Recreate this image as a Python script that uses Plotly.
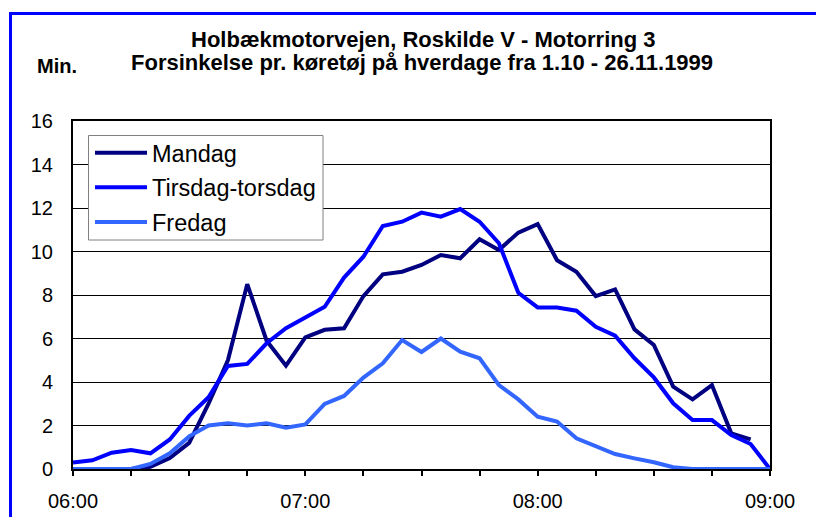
import plotly.graph_objects as go

times = ["06:00", "06:05", "06:10", "06:15", "06:20", "06:25", "06:30", "06:35", "06:40", "06:45",
         "06:50", "06:55", "07:00", "07:05", "07:10", "07:15", "07:20", "07:25", "07:30", "07:35",
         "07:40", "07:45", "07:50", "07:55", "08:00", "08:05", "08:10", "08:15", "08:20", "08:25",
         "08:30", "08:35", "08:40", "08:45", "08:50", "08:55", "09:00"]

mandag = [0, 0, 0, 0, 0.1, 0.5, 1.2, 3.0, 5.0, 8.5, 5.9, 4.75, 6.05, 6.4, 6.47, 7.95, 8.95, 9.07,
          9.38, 9.84, 9.69, 10.56, 10.07, 10.87, 11.26, 9.6, 9.07, 7.95, 8.26, 6.42, 5.7, 3.79,
          3.2, 3.86, 1.64, 1.36, None]
tirsdag = [0.3, 0.4, 0.75, 0.87, 0.72, 1.36, 2.44, 3.3, 4.74, 4.83, 5.78, 6.47, 6.97, 7.46, 8.8,
           9.76, 11.17, 11.37, 11.79, 11.6, 11.95, 11.37, 10.38, 8.1, 7.43, 7.42, 7.28, 6.54, 6.13,
           5.09, 4.21, 3.02, 2.25, 2.25, 1.56, 1.15, 0]
fredag = [0, 0, 0, 0, 0.23, 0.72, 1.5, 2.0, 2.1, 2.0, 2.1, 1.9, 2.05, 2.99, 3.36, 4.2, 4.86, 5.93,
          5.38, 6.0, 5.39, 5.09, 3.86, 3.2, 2.4, 2.18, 1.41, 1.06, 0.69, 0.49, 0.31, 0.08, 0, 0,
          0, 0, 0]

series_names = ["Mandag", "Tirsdag-torsdag", "Fredag"]
series_colors = ["#000080", "#0000FF", "#3366FF"]

tick_times = times[::3]
tick_labels = [t if t.endswith(":00") else "" for t in tick_times]

FONT = "Arial, 'Liberation Sans', sans-serif"

fig = go.Figure()
for name, vals, col in zip(series_names, [mandag, tirsdag, fredag], series_colors):
    fig.add_trace(go.Scatter(x=times, y=vals, name=name, mode="lines",
                             line=dict(color=col, width=4), legendgroup=name))

# page offset caused by the default body margin
OFF = 8
W, H = 824 - OFF, 517 - OFF
PL, PR, PT, PB = 73, 770, 121, 469          # plot area in page pixels
ml, mt = PL - OFF, PT - OFF
mr, mb = W - (PR - OFF), H - (PB - OFF)
pw, ph = PR - PL, PB - PT


def px_x(x):
    return (x - PL) / pw


def px_y(y):
    return (PB - y) / ph


fig.update_layout(
    width=W, height=H,
    margin=dict(l=ml, r=mr, t=mt, b=mb, autoexpand=False),
    paper_bgcolor="white", plot_bgcolor="white",
    font=dict(family=FONT, color="black"),
    showlegend=True,
    legend=dict(x=px_x(90), y=px_y(131), xanchor="left", yanchor="top",
                bgcolor="rgba(0,0,0,0)", borderwidth=0,
                font=dict(size=23.5, family=FONT), tracegroupgap=1,
                itemwidth=52),
    xaxis=dict(type="category", range=[0, len(times) - 1], automargin=False,
               tickvals=tick_times, ticktext=tick_labels,
               ticks="outside", ticklen=5, tickwidth=1.5, tickcolor="black",
               showline=True, linecolor="black", linewidth=2, mirror=True,
               showgrid=False, tickfont=dict(size=20), ticklabelstandoff=8),
    yaxis=dict(range=[0, 16], dtick=2, showgrid=True, gridcolor="black", gridwidth=1,
               automargin=False,
               showline=True, linecolor="black", linewidth=2, mirror=True,
               ticks="", tickfont=dict(size=20), ticklabelstandoff=14, zeroline=False),
    shapes=[
        dict(type="rect", xref="paper", yref="paper",
             x0=px_x(10.5), x1=px_x(850), y0=px_y(560), y1=px_y(13.5),
             line=dict(color="#0000FF", width=3), fillcolor="rgba(0,0,0,0)", layer="below"),
        dict(type="rect", xref="paper", yref="paper",
             x0=px_x(88.5), x1=px_x(323), y0=px_y(240), y1=px_y(135.5),
             line=dict(color="#808080", width=1), fillcolor="white", layer="above"),
    ],
    annotations=[
        dict(text="<b>Holbækmotorvejen, Roskilde V - Motorring 3</b>", xref="paper", yref="paper",
             x=px_x(423), y=px_y(39), showarrow=False, font=dict(size=22, family=FONT),
             xanchor="center", yanchor="middle"),
        dict(text="<b>Forsinkelse pr. køretøj på hverdage fra 1.10 - 26.11.1999</b>", xref="paper",
             yref="paper", x=px_x(422), y=px_y(63), showarrow=False,
             font=dict(size=22, family=FONT), xanchor="center", yanchor="middle"),
        dict(text="<b>Min.</b>", xref="paper", yref="paper", x=px_x(35), y=px_y(66),
             showarrow=False, font=dict(size=20, family=FONT), xanchor="left", yanchor="middle"),
    ],
)

fig.write_html("out.html")
